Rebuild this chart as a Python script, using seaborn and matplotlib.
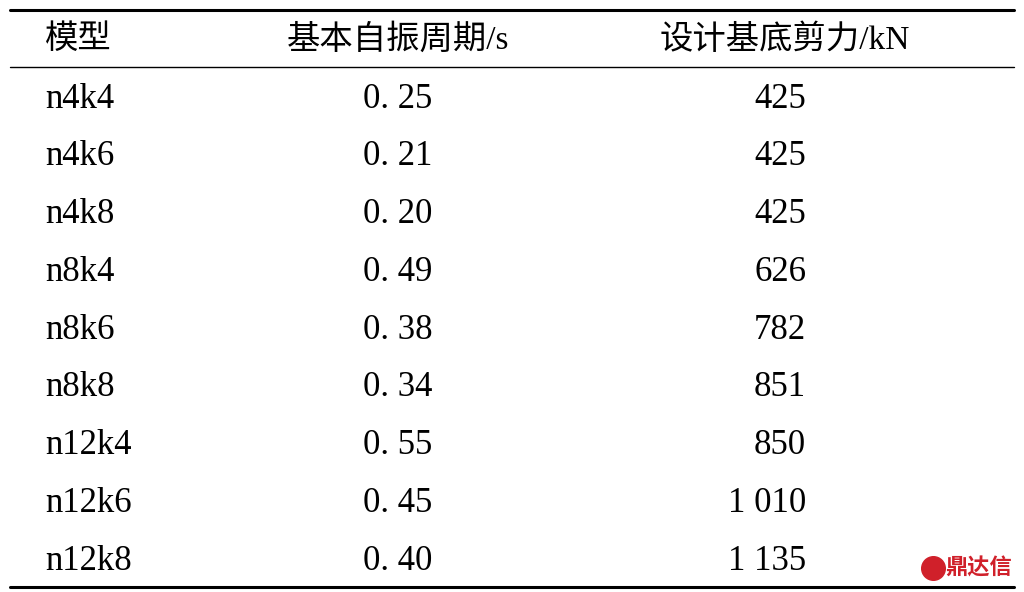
import matplotlib
matplotlib.use("Agg")
import matplotlib.pyplot as plt
import seaborn as sns

headers = ["模型", "基本自振周期/s", "设计基底剪力/kN"]
models = ["n4k4", "n4k6", "n4k8", "n8k4", "n8k6", "n8k8", "n12k4", "n12k6", "n12k8"]
periods = [0.25, 0.21, 0.20, 0.49, 0.38, 0.34, 0.55, 0.45, 0.40]
shears = [425, 425, 425, 626, 782, 851, 850, 1010, 1135]

sns.set_theme(style="white")
plt.rcParams['font.family'] = ['Liberation Serif', 'Noto Sans CJK SC', 'DejaVu Sans']
plt.rcParams['text.color'] = 'black'

W, H = 1024, 592
fig = plt.figure(figsize=(W/100, H/100), dpi=100)
ax = fig.add_axes([0, 0, 1, 1])
ax.set_xlim(0, W)
ax.set_ylim(H, 0)
ax.axis("off")

fs = 25
ax.plot([10, 1014], [10, 10], color="black", lw=2.2)
ax.plot([10, 1014], [67, 67], color="black", lw=1.0)
ax.plot([10, 1014], [587, 587], color="black", lw=2.2)

ax.text(45, 40, headers[0], fontsize=24, ha="left", va="center", color="black")
ax.text(398, 40, headers[1], fontsize=24, ha="center", va="center", color="black")
ax.text(785, 40, headers[2], fontsize=24, ha="center", va="center", color="black")

def fmt_shear(v):
    return f"{v:,}".replace(",", " ")

for i, (m, p, s) in enumerate(zip(models, periods, shears)):
    y = 99 + i * 57.8
    ax.text(45, y, m, fontsize=fs, ha="left", va="center", color="black")
    ax.text(398, y, f"{p:.2f}".replace(".", ". "), fontsize=fs, ha="center", va="center", color="black")
    ax.text(806, y, fmt_shear(s), fontsize=fs, ha="right", va="center", color="black")

ax.text(1012, 568, "鼎达信", fontsize=16, color="#d0202a", ha="right", va="center",
        family=["Noto Sans CJK SC"], fontweight="bold")
ax.plot([933], [568], marker="o", markersize=17, color="#d0202a")

fig.savefig("out.png", dpi=100)
